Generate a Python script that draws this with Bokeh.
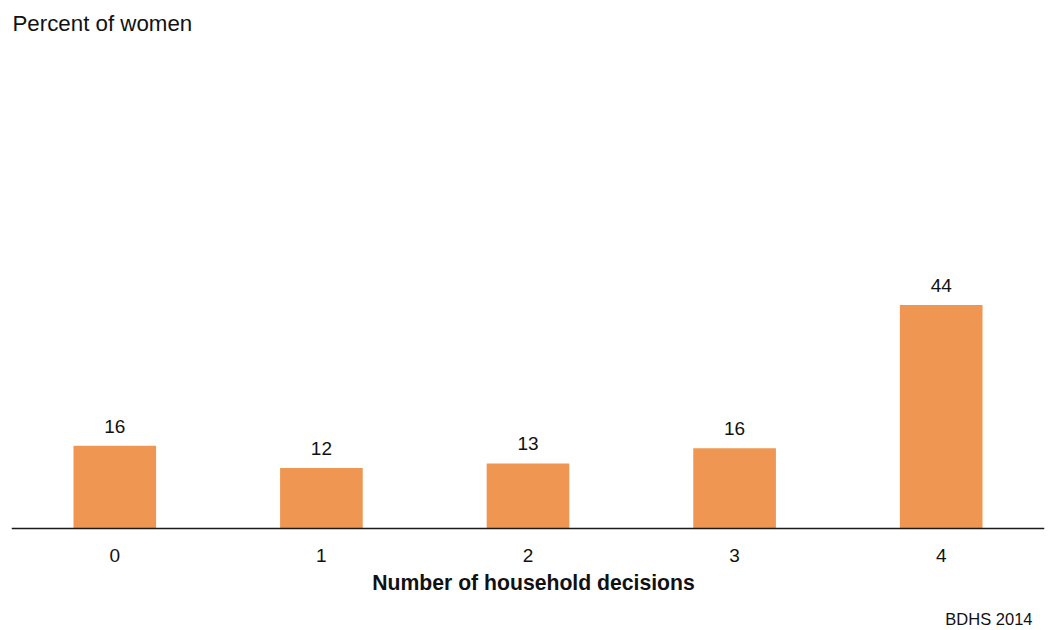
from bokeh.plotting import figure
from bokeh.models import Range1d, FactorRange, ColumnDataSource, Label, LabelSet, Span
from bokeh.core.properties import value
from bokeh.embed import file_html
from bokeh.resources import INLINE

categories = ["0", "1", "2", "3", "4"]
values = [16.3, 11.9, 12.8, 15.8, 44.0]
labels = ["16", "12", "13", "16", "44"]

FONT = "Liberation Sans"
W, H = 1048, 630
PX_PER_UNIT = 5.08
BASE = 528  # window y of the zero line

src = ColumnDataSource(dict(x=categories, top=values, lab=labels))
ticks = ColumnDataSource(dict(x=categories, y=[0] * len(categories), lab=categories))

p = figure(width=W, height=H, x_range=FactorRange(*categories, range_padding=0),
           y_range=Range1d(-(H - BASE) / PX_PER_UNIT, BASE / PX_PER_UNIT),
           output_backend="svg", toolbar_location=None,
           x_axis_location=None, y_axis_location=None,
           min_border_left=11, min_border_right=4, min_border_top=0, min_border_bottom=0)
p.outline_line_color = None
p.grid.grid_line_color = None

p.vbar(x="x", top="top", width=0.40, source=src, fill_color="#EF9752", line_color=None)

p.add_layout(Span(location=0, dimension="width", line_color="#1a1a1a", line_width=1.3))

p.add_layout(LabelSet(x="x", y="top", text="lab", source=src, text_align="center",
                      text_baseline="alphabetic", y_offset=13, text_font=value(FONT),
                      text_font_size=value("19px"), text_color="#111111"))

p.add_layout(LabelSet(x="x", y="y", text="lab", source=ticks, text_align="center",
                      text_baseline="alphabetic", y_offset=-33.7, text_font=value(FONT),
                      text_font_size=value("19px"), text_color="#111111"))

p.add_layout(Label(x=1, y=H - 31.7 + 8.6, x_units="screen", y_units="screen",
                   text="Percent of women", text_align="left", text_baseline="alphabetic",
                   text_font=FONT, text_font_size="22.3px", text_color="#111111"))

p.add_layout(Label(x=522, y=H - 590 + 8.2, x_units="screen", y_units="screen",
                   text="Number of household decisions", text_align="center",
                   text_baseline="alphabetic", text_font=FONT, text_font_style="bold",
                   text_font_size="21.2px", text_color="#111111"))

p.add_layout(Label(x=1021, y=H - 624.5 + 6.4, x_units="screen", y_units="screen",
                   text="BDHS 2014", text_align="right", text_baseline="alphabetic",
                   text_font=FONT, text_font_size="16.5px", text_color="#111111"))

open("out.html", "w").write(file_html(p, INLINE))
